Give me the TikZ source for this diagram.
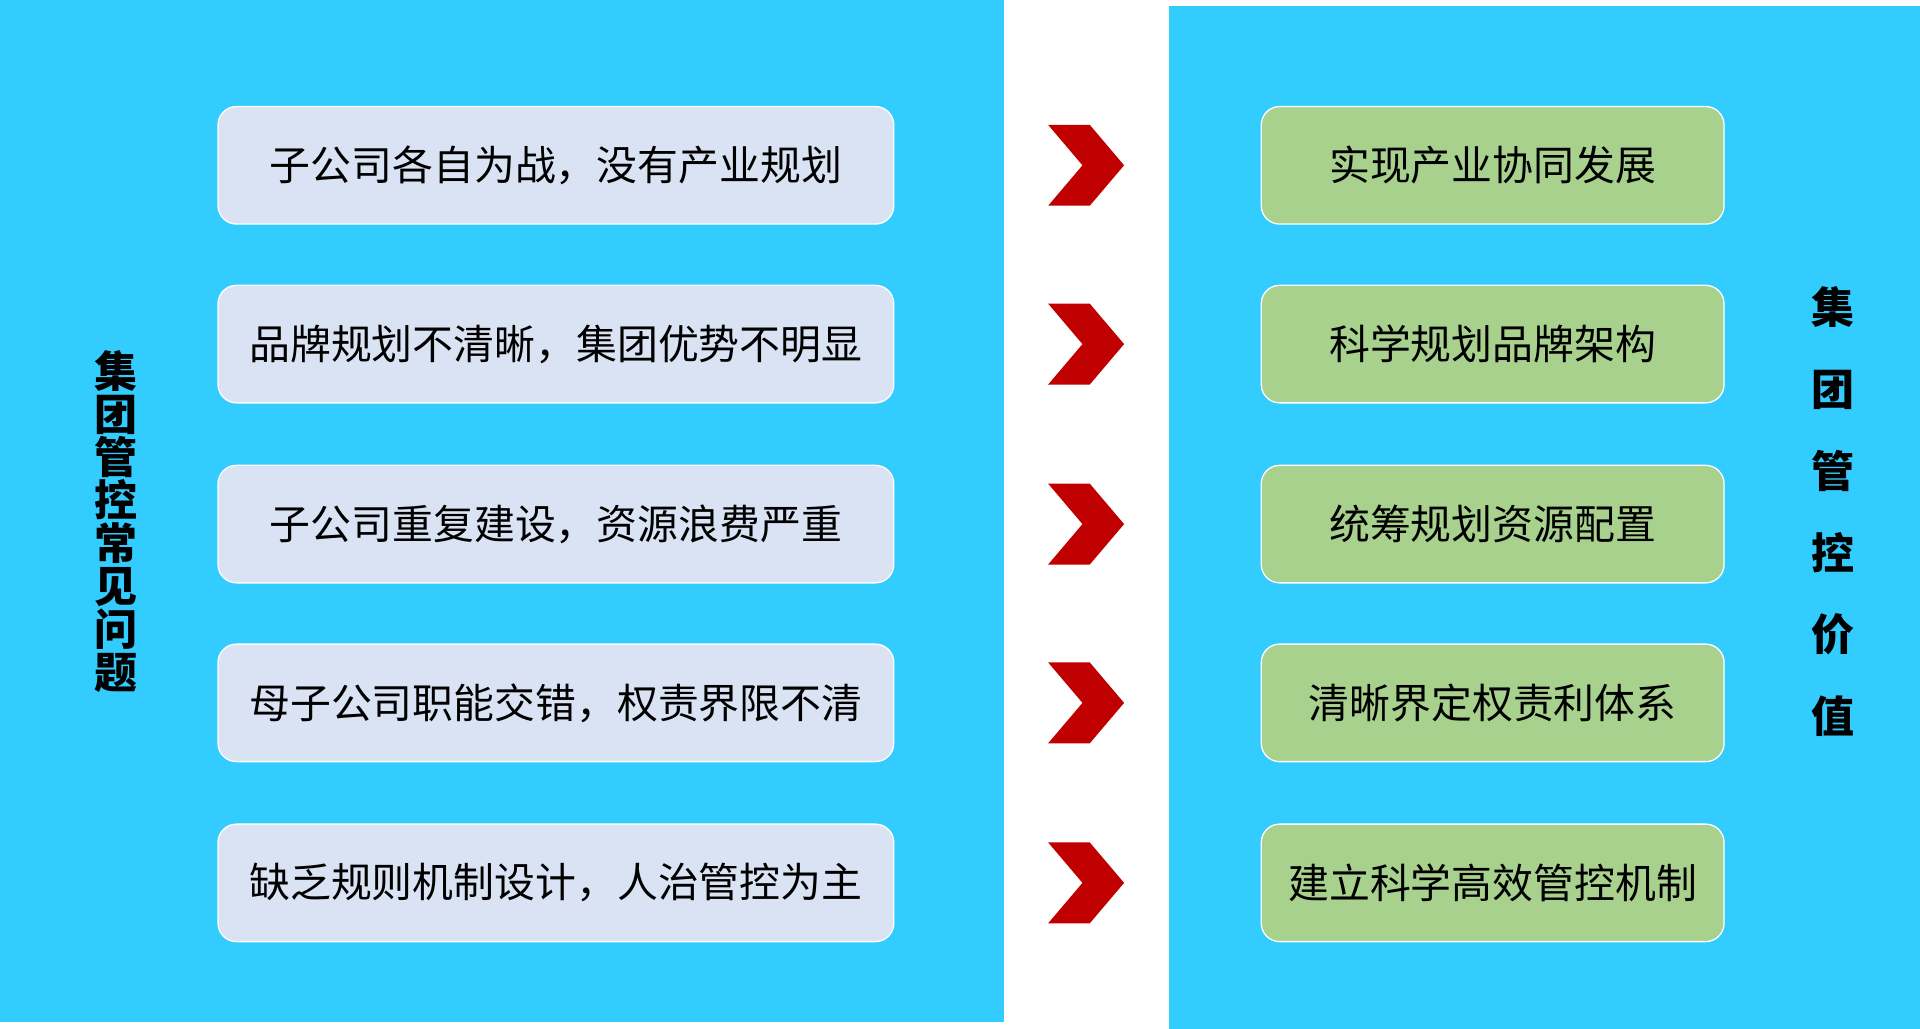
\documentclass[tikz,border=0pt]{standalone}
\usepackage{fontspec}
\newfontfamily\cjk{Noto Sans CJK SC}
\newfontfamily\cjkb{Noto Sans CJK SC Bold}
\definecolor{panel}{HTML}{33CCFF}
\definecolor{lbox}{HTML}{DAE3F3}
\definecolor{rbox}{HTML}{A9D18E}
\definecolor{chev}{HTML}{C00000}
\begin{document}
\begin{tikzpicture}[x=0.02cm,y=-0.02cm,
  lb/.style={draw=white,line width=0.6pt,fill=lbox,rounded corners=0.3cm,minimum width=11.04cm,minimum height=1.92cm,font=\cjk\fontsize{19}{22}\selectfont,inner sep=0pt},
  rb/.style={draw=white,line width=0.6pt,fill=rbox,rounded corners=0.3cm,minimum width=7.56cm,minimum height=1.92cm,font=\cjk\fontsize{19}{22}\selectfont,inner sep=0pt},
  vt/.style={font=\cjk\bfseries\fontsize{20}{22}\selectfont,align=center,inner sep=0pt}]
\useasboundingbox (0,0) rectangle (1568,840);
\fill[panel] (0,0) rectangle (820,835);
\fill[panel] (955,5) rectangle (1568,840);
\foreach \y/\l/\r [count=\i] in {135/子公司各自为战，没有产业规划/实现产业协同发展,
  281/品牌规划不清晰，集团优势不明显/科学规划品牌架构,
  428/子公司重复建设，资源浪费严重/统筹规划资源配置,
  574/母子公司职能交错，权责界限不清/清晰界定权责利体系,
  721/缺乏规则机制设计，人治管控为主/建立科学高效管控机制}{
  \node[lb] (L\i) at (454,\y) {\l};
  \node[rb] (R\i) at (1219,\y) {\r};
  \fill[chev] (856,\y-33) -- (890,\y-33) -- (918,\y) -- (890,\y+33) -- (856,\y+33) -- (884,\y) -- cycle;
}
\node[vt] (LT) at (95,426) {\cjkb 集\\[-2pt]\cjkb 团\\[-2pt]\cjkb 管\\[-2pt]\cjkb 控\\[-2pt]\cjkb 常\\[-2pt]\cjkb 见\\[-2pt]\cjkb 问\\[-2pt]\cjkb 题};
\node[vt,align=center] (RT) at (1497,418) {\cjkb 集\\[16pt]\cjkb 团\\[16pt]\cjkb 管\\[16pt]\cjkb 控\\[16pt]\cjkb 价\\[16pt]\cjkb 值};
\end{tikzpicture}
\end{document}
